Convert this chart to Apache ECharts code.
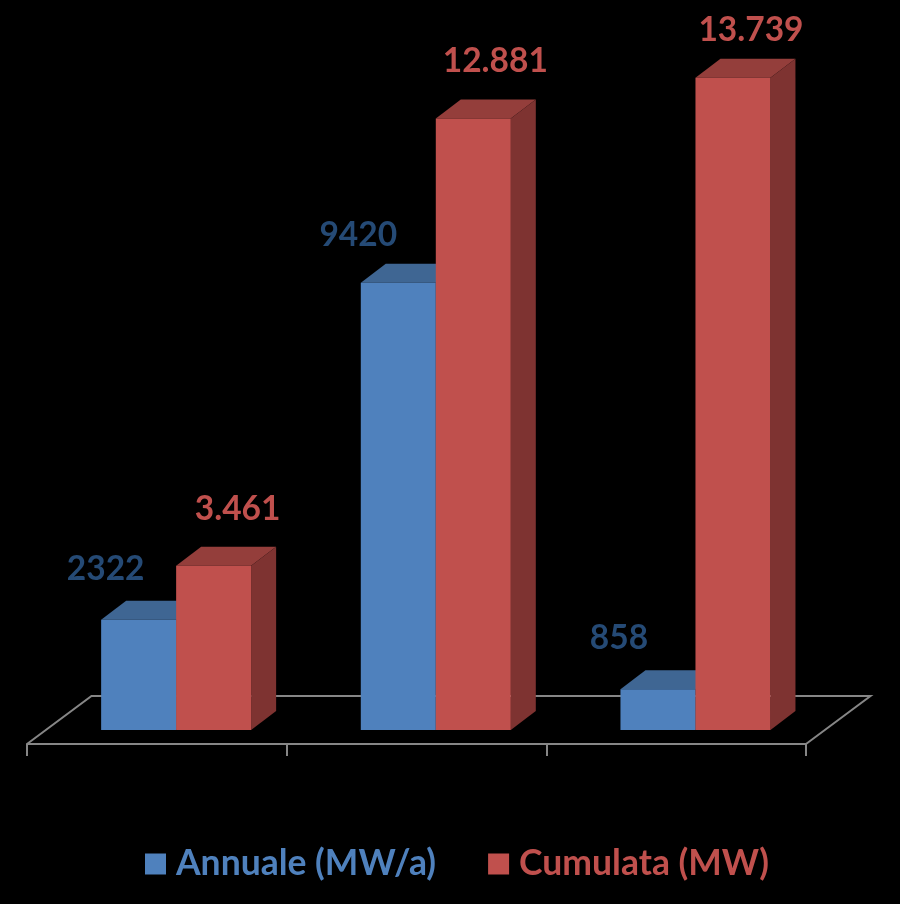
<!DOCTYPE html>
<html>
<head>
<meta charset="utf-8">
<style>html,body{margin:0;padding:0;background:#000}#c{width:900px;height:904px}</style>
<script src="https://cdn.jsdelivr.net/npm/echarts@6/dist/echarts.min.js"></script>
</head>
<body>
<div id="c"></div>
<script>
const categories = ['1', '2', '3'];
const annualeName = 'Annuale (MW/a)';
const cumulataName = 'Cumulata (MW)';
const annuale = [2322, 9420, 858];
const cumulata = [3461, 12881, 13739];

// styling and hand-placed label offsets (the original labels were moved by hand)
const annualeLabelShift = [[-33, -34], [-40, -31], [-39, -34]];
const cumulataLabelShift = [[24, -40], [22, -40], [18, -31]];
const BAR_W = 75, DEPTH_X = 25, DEPTH_Y = 19, FLOOR_DX = 64.5;
const FONT = 'Lato, Carlito, sans-serif';

function depthSeries(values, sign, topColor, sideColor) {
  return {
    type: 'custom', name: 'depth' + sign, xAxisIndex: 0, yAxisIndex: 0, z: 1, silent: true,
    data: values.map((v, i) => [i, v]),
    renderItem(params, api) {
      const top = api.coord([api.value(0), api.value(1)]);
      const base = api.coord([api.value(0), 0]);
      const l = top[0] + (sign > 0 ? 0 : -BAR_W), r = l + BAR_W;
      return {
        type: 'group',
        children: [
          { type: 'polygon', shape: { points: [[l, top[1]], [r, top[1]], [r + DEPTH_X, top[1] - DEPTH_Y], [l + DEPTH_X, top[1] - DEPTH_Y]] }, style: { fill: topColor } },
          { type: 'polygon', shape: { points: [[r, top[1]], [r + DEPTH_X, top[1] - DEPTH_Y], [r + DEPTH_X, base[1] - DEPTH_Y], [r, base[1]]] }, style: { fill: sideColor } }
        ]
      };
    }
  };
}

function barSeries(name, values, color, labelColor, shifts, fmt) {
  return {
    type: 'bar', name, xAxisIndex: 0, yAxisIndex: 0, z: 3,
    barWidth: BAR_W, barGap: 0,
    itemStyle: { color },
    data: values.map((v, i) => ({
      value: v,
      label: { offset: shifts[i] }
    })),
    label: {
      show: true, position: 'top', distance: 0, color: labelColor,
      fontFamily: FONT, fontWeight: 'bold', fontSize: 33.5,
      formatter: p => fmt(p.value)
    }
  };
}

const chart = echarts.init(document.getElementById('c'), null, { renderer: 'canvas' });
chart.setOption({
  backgroundColor: '#000',
  animation: false,
  legend: {
    left: 140, top: 841, itemWidth: 21, itemHeight: 21, itemGap: 52, icon: 'rect',
    selectedMode: false,
    textStyle: { fontFamily: FONT, fontWeight: 'bold', fontSize: 35.5, padding: [0, 0, 0, 5] },
    data: [
      { name: annualeName, textStyle: { color: '#4F81BD' } },
      { name: cumulataName, textStyle: { color: '#C0504D' } }
    ]
  },
  grid: [
    { left: 46.3, width: 779, top: 18, bottom: 174 },
    { left: 27, width: 779, top: 696, height: 48 }
  ],
  xAxis: [
    { type: 'category', gridIndex: 0, data: categories, show: false },
    {
      type: 'category', gridIndex: 1, data: categories, position: 'bottom',
      axisLine: { lineStyle: { color: '#868686', width: 2 } },
      axisTick: { show: true, length: 12, lineStyle: { color: '#868686', width: 2 } },
      axisLabel: { show: false }
    }
  ],
  yAxis: [
    { type: 'value', gridIndex: 0, min: 0, max: 15000, show: false, splitLine: { show: false } },
    { type: 'value', gridIndex: 1, min: 0, max: 1, show: false, splitLine: { show: false } }
  ],
  series: [
    {
      type: 'custom', name: 'floor', xAxisIndex: 1, yAxisIndex: 1, z: 0, silent: true,
      data: [[0, 0]],
      renderItem(params) {
        const g = params.coordSys;
        return {
          type: 'polyline',
          shape: { points: [[g.x, g.y + g.height], [g.x + FLOOR_DX, g.y], [g.x + g.width + FLOOR_DX, g.y], [g.x + g.width, g.y + g.height]] },
          style: { stroke: '#868686', lineWidth: 2, fill: null }
        };
      }
    },
    depthSeries(annuale, -1, '#3F6693', '#3A5F8A'),
    depthSeries(cumulata, 1, '#943E3B', '#7E3331'),
    barSeries(annualeName, annuale, '#4F81BD', '#254A75', annualeLabelShift, v => String(v)),
    barSeries(cumulataName, cumulata, '#C0504D', '#C0504D', cumulataLabelShift, v => String(v).replace(/\B(?=(\d{3})+$)/g, '.'))
  ]
});
</script>
</body>
</html>
